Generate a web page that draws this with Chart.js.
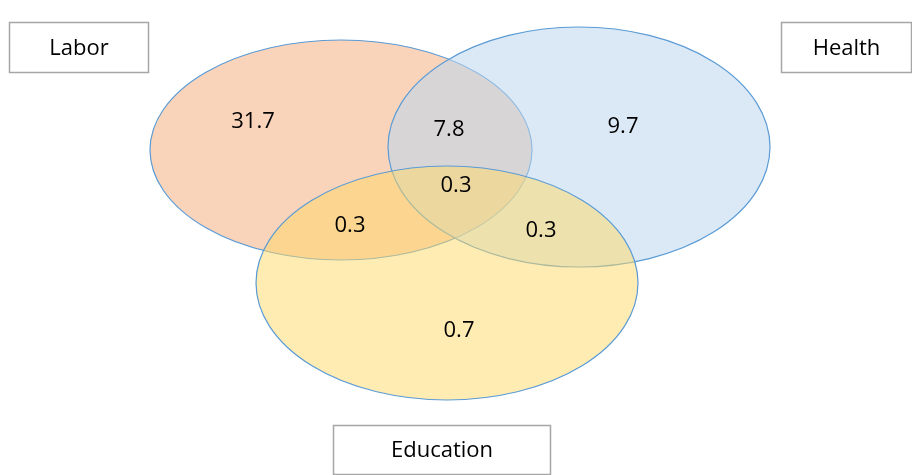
<!DOCTYPE html>
<html>
<head>
<meta charset="utf-8">
<script src="https://cdn.jsdelivr.net/npm/chart.js@4"></script>
<style>
  html, body { margin: 0; padding: 0; background: #fff; }
  #wrap { width: 912px; height: 475px; }
</style>
</head>
<body>
<div id="wrap"><canvas id="venn"></canvas></div>
<script>
// sets: name, centre (x, y) and radii in chart units
const setNames = ["Labor", "Health", "Education"];
const setCenterX = [341, 579, 447];
const setCenterY = [150, 147, 283];
const setRadiusX = [191, 191, 191];
const setRadiusY = [110, 120, 117];
const setFills = ["rgba(244,177,131,0.55)", "rgba(189,215,238,0.55)", "rgba(255,217,102,0.5)"];

// region values and where they sit
const regionValues = ["31.7", "7.8", "9.7", "0.3", "0.3", "0.3", "0.7"];
const regionX = [253, 449, 623, 456, 350, 541, 459];
const regionY = [122, 130, 127, 186, 226, 231, 331];

// legend-style name boxes
const boxLeft = [9, 781, 333];
const boxTop = [22, 22, 425];
const boxRight = [149, 912, 551];
const boxBottom = [73, 73, 475];

const vennPlugin = {
  id: "venn",
  beforeDatasetsDraw(chart) {
    const { ctx, scales } = chart;
    const x = scales.x, y = scales.y;
    ctx.save();
    setNames.forEach((name, i) => {
      const cx = x.getPixelForValue(setCenterX[i]);
      const cy = y.getPixelForValue(setCenterY[i]);
      const rx = Math.abs(x.getPixelForValue(setCenterX[i] + setRadiusX[i]) - cx);
      const ry = Math.abs(y.getPixelForValue(setCenterY[i] + setRadiusY[i]) - cy);
      ctx.beginPath();
      ctx.ellipse(cx, cy, rx, ry, 0, 0, Math.PI * 2);
      ctx.fillStyle = setFills[i];
      ctx.fill();
      ctx.strokeStyle = "#5b9bd5";
      ctx.lineWidth = 1.2;
      ctx.stroke();
    });
    // name boxes
    ctx.font = "22px 'Open Sans', sans-serif";
    ctx.textAlign = "center";
    ctx.textBaseline = "middle";
    setNames.forEach((name, i) => {
      const l = x.getPixelForValue(boxLeft[i]);
      const r = x.getPixelForValue(boxRight[i]);
      const t = y.getPixelForValue(boxTop[i]);
      const b = y.getPixelForValue(boxBottom[i]);
      ctx.fillStyle = "#fff";
      ctx.fillRect(l, t, r - l, b - t);
      ctx.strokeStyle = "#a6a6a6";
      ctx.lineWidth = 1.5;
      ctx.strokeRect(l + 0.5, t + 0.5, r - l - 1, b - t - 1);
      ctx.fillStyle = "#000";
      ctx.fillText(name, (l + r) / 2, (t + b) / 2 + 1);
    });
    ctx.restore();
  },
  afterDatasetsDraw(chart) {
    const { ctx } = chart;
    const meta = chart.getDatasetMeta(0);
    ctx.save();
    ctx.font = "22px 'Open Sans', sans-serif";
    ctx.textAlign = "center";
    ctx.textBaseline = "middle";
    ctx.fillStyle = "#000";
    meta.data.forEach((pt, i) => {
      ctx.fillText(regionValues[i], pt.x, pt.y);
    });
    ctx.restore();
  }
};

new Chart(document.getElementById("venn"), {
  type: "scatter",
  data: {
    datasets: [{
      data: regionX.map((v, i) => ({ x: v, y: regionY[i] })),
      pointRadius: 0,
      pointHoverRadius: 0
    }]
  },
  options: {
    responsive: true,
    maintainAspectRatio: false,
    animation: false,
    layout: { padding: 0 },
    plugins: { legend: { display: false }, tooltip: { enabled: false } },
    scales: {
      x: { type: "linear", min: 0, max: 912, display: false },
      y: { type: "linear", min: 0, max: 475, reverse: true, display: false }
    }
  },
  plugins: [vennPlugin]
});
</script>
</body>
</html>
